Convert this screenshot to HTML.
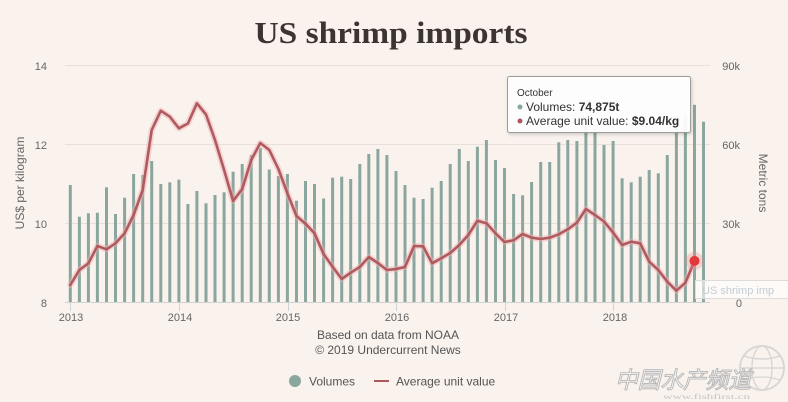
<!DOCTYPE html>
<html>
<head>
<meta charset="utf-8">
<style>
  html,body{margin:0;padding:0;background:#f9f2ed;}
  body{width:788px;height:402px;overflow:hidden;}
  svg{display:block;}
  .s{font-family:"Liberation Sans",Arial,sans-serif;}
</style>
</head>
<body>
<svg width="788" height="402" viewBox="0 0 788 402" xmlns="http://www.w3.org/2000/svg">
  <defs>
    <filter id="sh" x="-10%" y="-10%" width="130%" height="140%">
      <feDropShadow dx="1" dy="1.5" stdDeviation="1.5" flood-color="#000" flood-opacity="0.18"/>
    </filter>
  </defs>
  <rect x="0" y="0" width="788" height="402" fill="#f9f2ed"/>

  <text x="391" y="43" text-anchor="middle" style="font-family:'Liberation Serif','DejaVu Serif',serif;font-weight:bold;font-size:31px" fill="#3b3430" textLength="273" lengthAdjust="spacingAndGlyphs">US shrimp imports</text>

  <g stroke="#e9e0d9" stroke-width="1">
    <line x1="65" y1="65.5" x2="710" y2="65.5"/>
    <line x1="65" y1="144.5" x2="710" y2="144.5"/>
    <line x1="65" y1="223.5" x2="710" y2="223.5"/>
  </g>

  <g class="s" font-size="11" fill="#666" text-anchor="end">
    <text x="47" y="70">14</text>
    <text x="47" y="149">12</text>
    <text x="47" y="228">10</text>
    <text x="47" y="307">8</text>
  </g>
  <text class="s" transform="translate(24,183) rotate(-90)" font-size="12" fill="#666" text-anchor="middle">US$ per kilogram</text>

  <g class="s" font-size="11" fill="#666" text-anchor="end">
    <text x="740" y="70">90k</text>
    <text x="740" y="149">60k</text>
    <text x="740" y="228">30k</text>
    <text x="742" y="307">0</text>
  </g>
  <text class="s" transform="translate(759,183) rotate(90)" font-size="12" fill="#666" text-anchor="middle">Metric tons</text>

  <g fill="#8ba69f">
    <rect x="68.8" y="185" width="3" height="117"/>
    <rect x="77.9" y="216.7" width="3" height="85.3"/>
    <rect x="86.9" y="213.3" width="3" height="88.7"/>
    <rect x="95.9" y="212.7" width="3" height="89.3"/>
    <rect x="105.0" y="187.3" width="3" height="114.7"/>
    <rect x="114.0" y="214" width="3" height="88"/>
    <rect x="123.1" y="197.7" width="3" height="104.3"/>
    <rect x="132.1" y="174" width="3" height="128"/>
    <rect x="141.2" y="175" width="3" height="127"/>
    <rect x="150.2" y="161" width="3" height="141"/>
    <rect x="159.3" y="184" width="3" height="118"/>
    <rect x="168.3" y="182.3" width="3" height="119.7"/>
    <rect x="177.4" y="179.7" width="3" height="122.3"/>
    <rect x="186.4" y="204" width="3" height="98"/>
    <rect x="195.4" y="191" width="3" height="111"/>
    <rect x="204.5" y="203.3" width="3" height="98.7"/>
    <rect x="213.5" y="195" width="3" height="107"/>
    <rect x="222.6" y="192.3" width="3" height="109.7"/>
    <rect x="231.6" y="171.7" width="3" height="130.3"/>
    <rect x="240.7" y="164" width="3" height="138"/>
    <rect x="249.7" y="155" width="3" height="147"/>
    <rect x="258.8" y="148" width="3" height="154"/>
    <rect x="267.8" y="169.5" width="3" height="132.5"/>
    <rect x="276.9" y="176" width="3" height="126"/>
    <rect x="285.9" y="174" width="3" height="128"/>
    <rect x="295.0" y="200.7" width="3" height="101.3"/>
    <rect x="304.0" y="181" width="3" height="121"/>
    <rect x="313.0" y="184" width="3" height="118"/>
    <rect x="322.1" y="198.5" width="3" height="103.5"/>
    <rect x="331.1" y="177.7" width="3" height="124.3"/>
    <rect x="340.2" y="176.7" width="3" height="125.3"/>
    <rect x="349.2" y="179" width="3" height="123"/>
    <rect x="358.3" y="164" width="3" height="138"/>
    <rect x="367.3" y="154" width="3" height="148"/>
    <rect x="376.4" y="149" width="3" height="153"/>
    <rect x="385.4" y="155" width="3" height="147"/>
    <rect x="394.5" y="171" width="3" height="131"/>
    <rect x="403.5" y="185" width="3" height="117"/>
    <rect x="412.5" y="197.7" width="3" height="104.3"/>
    <rect x="421.6" y="199" width="3" height="103"/>
    <rect x="430.6" y="187.7" width="3" height="114.3"/>
    <rect x="439.7" y="181" width="3" height="121"/>
    <rect x="448.7" y="164" width="3" height="138"/>
    <rect x="457.8" y="149" width="3" height="153"/>
    <rect x="466.8" y="161" width="3" height="141"/>
    <rect x="475.9" y="146.7" width="3" height="155.3"/>
    <rect x="484.9" y="140" width="3" height="162"/>
    <rect x="494.0" y="160" width="3" height="142"/>
    <rect x="503.0" y="168" width="3" height="134"/>
    <rect x="512.1" y="194" width="3" height="108"/>
    <rect x="521.1" y="195.3" width="3" height="106.7"/>
    <rect x="530.1" y="182" width="3" height="120"/>
    <rect x="539.2" y="162" width="3" height="140"/>
    <rect x="548.2" y="162" width="3" height="140"/>
    <rect x="557.3" y="142.3" width="3" height="159.7"/>
    <rect x="566.3" y="140" width="3" height="162"/>
    <rect x="575.4" y="141" width="3" height="161"/>
    <rect x="584.4" y="125" width="3" height="177"/>
    <rect x="593.5" y="128" width="3" height="174"/>
    <rect x="602.5" y="145" width="3" height="157"/>
    <rect x="611.6" y="141" width="3" height="161"/>
    <rect x="620.6" y="178.3" width="3" height="123.7"/>
    <rect x="629.7" y="182.3" width="3" height="119.7"/>
    <rect x="638.7" y="176.7" width="3" height="125.3"/>
    <rect x="647.7" y="170" width="3" height="132"/>
    <rect x="656.8" y="173.3" width="3" height="128.7"/>
    <rect x="665.8" y="155" width="3" height="147"/>
    <rect x="674.9" y="120" width="3" height="182"/>
    <rect x="683.9" y="115" width="3" height="187"/>
    <rect x="693.0" y="104.8" width="3" height="197.2"/>
    <rect x="702.0" y="121.7" width="3" height="180.3"/>
  </g>

  <line x1="65" y1="302.5" x2="710" y2="302.5" stroke="#cfd3d6" stroke-width="1"/>
  <g stroke="#cfd3d6" stroke-width="1">
    <line x1="70.5" y1="302" x2="70.5" y2="311"/>
    <line x1="179.5" y1="302" x2="179.5" y2="311"/>
    <line x1="288.5" y1="302" x2="288.5" y2="311"/>
    <line x1="396.5" y1="302" x2="396.5" y2="311"/>
    <line x1="505.5" y1="302" x2="505.5" y2="311"/>
    <line x1="613.5" y1="302" x2="613.5" y2="311"/>
  </g>
  <g class="s" font-size="11" fill="#666" text-anchor="middle">
    <text x="71" y="321">2013</text>
    <text x="180" y="321">2014</text>
    <text x="288" y="321">2015</text>
    <text x="397" y="321">2016</text>
    <text x="506" y="321">2017</text>
    <text x="615" y="321">2018</text>
  </g>

  <polyline fill="none" stroke="#eeb3b3" stroke-opacity="0.5" stroke-width="6" stroke-linejoin="round" stroke-linecap="round"
    points="70.3,285 79.4,270 88.4,263.3 97.4,246 106.5,249.3 115.5,243.3 124.6,233.3 133.6,215 142.7,190 151.7,130 160.8,110.7 169.8,116.7 178.9,128.3 187.9,123.5 196.9,103.3 206,114.5 215,140 224.1,170 233.1,201 242.2,189 251.2,160 260.3,143 269.3,150 278.4,169 287.4,193.3 296.5,216 305.5,223.7 314.5,233.3 323.6,254 332.6,266.7 341.7,279 350.7,272.7 359.8,267 368.8,257 377.9,263 386.9,270 396,269 405,267 414.1,246 423.1,246.3 432.1,263.3 441.2,258.3 450.2,253 459.3,245 468.3,235 477.4,220.7 486.4,223.3 495.5,233.3 504.5,242 513.6,240.3 522.6,234 531.7,237.7 540.7,239 549.7,237.7 558.8,234.3 567.8,229.3 576.9,222.7 585.9,209 595,215 604,221.5 613.1,232.5 622.1,245 631.2,241.7 640.2,243.3 649.2,261.7 658.3,270 667.3,281.7 676.4,290.7 685.4,282.7 694.5,260.9"/>
  <polyline fill="none" stroke="#b05a60" stroke-width="2.6" stroke-linejoin="round" stroke-linecap="round"
    points="70.3,285 79.4,270 88.4,263.3 97.4,246 106.5,249.3 115.5,243.3 124.6,233.3 133.6,215 142.7,190 151.7,130 160.8,110.7 169.8,116.7 178.9,128.3 187.9,123.5 196.9,103.3 206,114.5 215,140 224.1,170 233.1,201 242.2,189 251.2,160 260.3,143 269.3,150 278.4,169 287.4,193.3 296.5,216 305.5,223.7 314.5,233.3 323.6,254 332.6,266.7 341.7,279 350.7,272.7 359.8,267 368.8,257 377.9,263 386.9,270 396,269 405,267 414.1,246 423.1,246.3 432.1,263.3 441.2,258.3 450.2,253 459.3,245 468.3,235 477.4,220.7 486.4,223.3 495.5,233.3 504.5,242 513.6,240.3 522.6,234 531.7,237.7 540.7,239 549.7,237.7 558.8,234.3 567.8,229.3 576.9,222.7 585.9,209 595,215 604,221.5 613.1,232.5 622.1,245 631.2,241.7 640.2,243.3 649.2,261.7 658.3,270 667.3,281.7 676.4,290.7 685.4,282.7 694.5,260.9"/>
  <circle cx="694.5" cy="260.9" r="9" fill="#e88080" fill-opacity="0.3"/>
  <circle cx="694.5" cy="260.9" r="5" fill="#e0393b"/>

  <rect x="695.5" y="280.5" width="100" height="18" fill="#ffffff" fill-opacity="0.6" stroke="#dcdcdc" stroke-width="1"/>
  <text class="s" x="702" y="294" font-size="11" fill="#c4ccd4">US shrimp imp</text>

  <rect x="507.5" y="76.5" width="183" height="56" rx="2" fill="#ffffff" fill-opacity="0.93" stroke="#9c9c9c" stroke-width="1" filter="url(#sh)"/>
  <text class="s" x="517" y="96" font-size="10" fill="#333">October</text>
  <circle cx="520" cy="107" r="2.5" fill="#8ba69f"/>
  <text class="s" x="526" y="111" font-size="12" fill="#333">Volumes: <tspan font-weight="bold">74,875t</tspan></text>
  <circle cx="520" cy="121" r="2.5" fill="#ad565c"/>
  <text class="s" x="526" y="125" font-size="12" fill="#333">Average unit value: <tspan font-weight="bold">$9.04/kg</tspan></text>

  <text class="s" x="388" y="339" font-size="12" fill="#555" text-anchor="middle">Based on data from NOAA</text>
  <text class="s" x="388" y="354" font-size="12" fill="#555" text-anchor="middle">© 2019 Undercurrent News</text>

  <circle cx="295" cy="381" r="6" fill="#8ba69f"/>
  <text class="s" x="309" y="385.5" font-size="12" fill="#555">Volumes</text>
  <line x1="374" y1="381" x2="389" y2="381" stroke="#ad565c" stroke-width="2"/>
  <text class="s" x="396" y="385.5" font-size="12" fill="#555">Average unit value</text>

  <g opacity="0.75">
    <circle cx="762" cy="368" r="22" fill="none" stroke="#d0d0d0" stroke-width="2"/>
    <ellipse cx="762" cy="368" rx="10" ry="22" fill="none" stroke="#d0d0d0" stroke-width="1.5"/>
    <line x1="740" y1="368" x2="784" y2="368" stroke="#d0d0d0" stroke-width="1.5"/>
    <path d="M744,356 Q762,362 780,356 M744,380 Q762,374 780,380" fill="none" stroke="#d0d0d0" stroke-width="1.5"/>
  </g>
  <text x="615" y="388" style="font-family:'Liberation Sans','Noto Sans CJK SC',sans-serif;font-size:23px;font-style:italic" fill="#ffffff" stroke="#b9b9b9" stroke-width="1" textLength="136" lengthAdjust="spacingAndGlyphs">中国水产频道</text>
  <text x="663" y="399" style="font-family:'Liberation Serif',serif;font-size:7px" fill="#c9c4c0" textLength="87" lengthAdjust="spacingAndGlyphs">www.fishfirst.cn</text>
</svg>
</body>
</html>
